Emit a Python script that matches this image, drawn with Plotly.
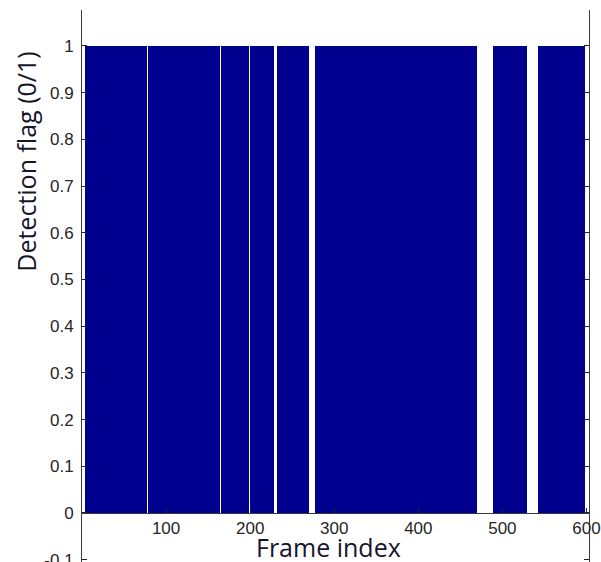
import plotly.graph_objects as go

# Detected runs of frames (flag = 1)
seg_start = [4, 79, 166, 200, 233, 278, 489, 543]
seg_end = [77, 164, 198, 228, 270, 469, 529, 598]
flag_value = [1, 1, 1, 1, 1, 1, 1, 1]

x_ticks = [100, 200, 300, 400, 500, 600]
y_ticks = [-0.1, 0, 0.1, 0.2, 0.3, 0.4, 0.5, 0.6, 0.7, 0.8, 0.9, 1]
y_ticktext = ["-0.1", "0", "0.1", "0.2", "0.3", "0.4", "0.5", "0.6", "0.7", "0.8", "0.9", "1"]

x_range = [0, 603]
y_range = [-0.1328, 1.077]

centers = [(s + e) / 2 for s, e in zip(seg_start, seg_end)]
widths = [e - s + 1 for s, e in zip(seg_start, seg_end)]

W, H, T = 601, 575, 10
plot_h = H - T

fig = go.Figure()
fig.add_trace(go.Bar(
    x=centers, y=flag_value, width=widths, base=0,
    marker=dict(color="rgb(0,0,143)", line=dict(width=0)),
    hoverinfo="skip", showlegend=False,
))

tick_font = dict(family="Liberation Sans Narrow, Arial Narrow, Liberation Sans, sans-serif",
                 size=17, color="#262626")
zero_pos = (0 - y_range[0]) / (y_range[1] - y_range[0])

fig.update_layout(
    width=W, height=H,
    margin=dict(l=82, r=12, t=T, b=0),
    paper_bgcolor="white", plot_bgcolor="white",
    bargap=0,
    xaxis=dict(
        range=x_range, tickvals=x_ticks, ticktext=[str(v) for v in x_ticks],
        anchor="free", position=zero_pos,
        showline=True, linecolor="#3a3a3a", linewidth=1,
        ticks="inside", ticklen=5, tickcolor="#222222",
        showgrid=False, zeroline=False, tickfont=tick_font,
    ),
    yaxis=dict(
        range=y_range, tickvals=y_ticks, ticktext=y_ticktext,
        showline=True, mirror="ticks", linecolor="#3a3a3a", linewidth=1,
        ticks="inside", ticklen=5, tickcolor="#222222",
        showgrid=False, zeroline=False, tickfont=tick_font,
        ticklabelstandoff=4,
    ),
    annotations=[
        dict(text="Frame index", xref="paper", yref="paper", x=0.487, y=(H - 547) / plot_h,
             xanchor="center", yanchor="middle", showarrow=False,
             font=dict(family="Open Sans, Noto Sans, sans-serif", size=25, color="#15152e")),
        dict(text="Detection flag (0/1)", xref="paper", yref="paper", x=-0.112,
             y=(H - 161.5) / plot_h,
             xanchor="center", yanchor="middle", textangle=-90, showarrow=False,
             font=dict(family="Open Sans, Noto Sans, sans-serif", size=25, color="#15152e")),
    ],
)

fig.write_html(
    "out.html",
    config={"displayModeBar": False},
    post_script="document.body.style.margin='0';document.body.style.overflow='hidden';",
)
